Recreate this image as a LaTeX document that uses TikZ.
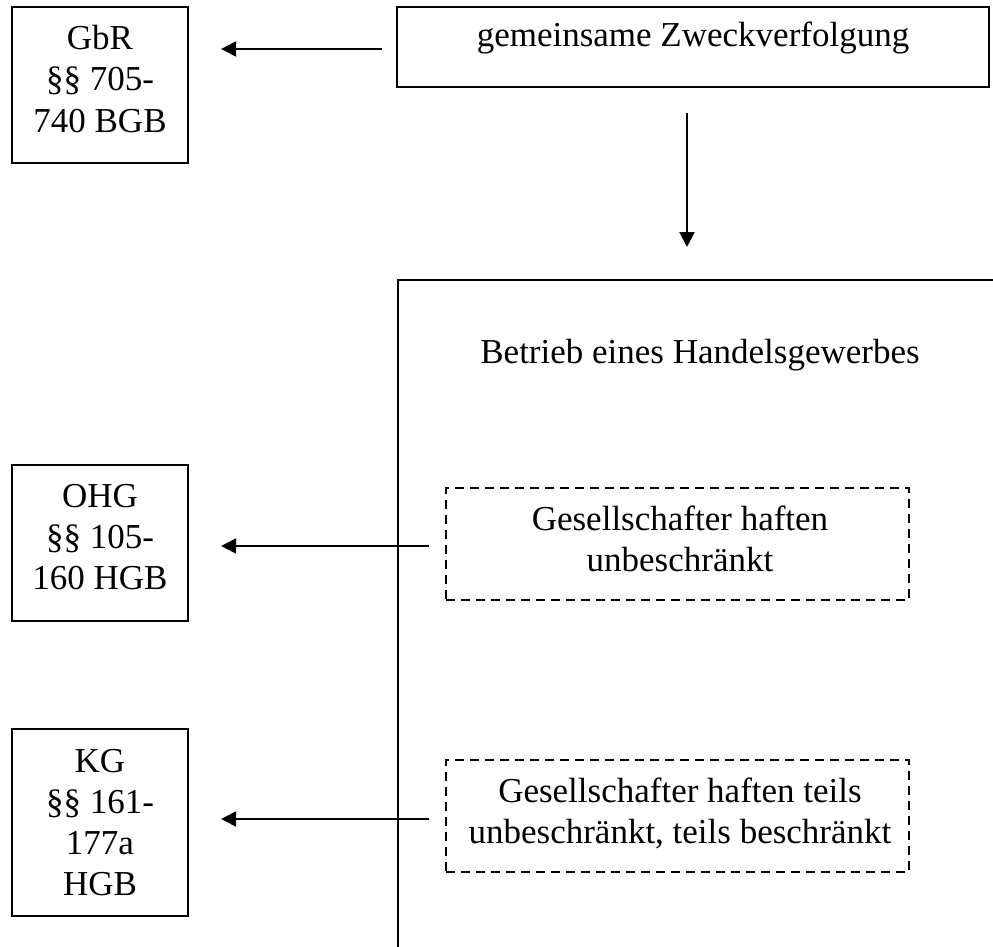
\documentclass[tikz,border=0pt]{standalone}
\usepackage{fontspec}
\setmainfont{Liberation Serif}
\usetikzlibrary{arrows.meta}
\begin{document}
\begin{tikzpicture}[x=1pt,y=-1pt,
  box/.style={draw=black, line width=2.2pt, inner sep=0pt, fill=none},
  dbox/.style={draw=black, line width=2.2pt, inner sep=0pt, dash pattern=on 9pt off 6pt},
  txt/.style={inner sep=0pt, align=center, font=\fontsize{35}{41}\selectfont},
  arr/.style={line width=2.2pt, -{Triangle[length=15pt,width=15pt]}}]
\useasboundingbox (0,0) rectangle (993,947);
\clip (0,0) rectangle (993,947);
\fill[white] (0,0) rectangle (993,947);
% boxes
\node[box, minimum width=592pt, minimum height=80pt] (top) at (693,47) {};
\node[box, minimum width=176pt, minimum height=156pt] (gbr) at (100,85) {};
\node[box, minimum width=176pt, minimum height=156pt] (ohg) at (100,543) {};
\node[box, minimum width=176pt, minimum height=187pt] (kg) at (100,822.5) {};
\node[box, anchor=north west, minimum width=700pt, minimum height=720pt] (big) at (397,279) {};
\node[dbox, minimum width=463pt, minimum height=112pt] (d1) at (677.5,544) {};
\node[dbox, minimum width=463pt, minimum height=112pt] (d2) at (677.5,816) {};
% texts (base anchor = baseline of the last line)
\node[txt, anchor=base] (toptxt) at (693,47) {gemeinsame Zweckverfolgung};
\node[txt, anchor=base] (gbrtxt) at (100,132) {GbR\\§§ 705-\\740 BGB};
\node[txt, anchor=base] (ohgtxt) at (100,589) {OHG\\§§ 105-\\160 HGB};
\node[txt, anchor=base] (kgtxt) at (100,895) {KG\\§§ 161-\\177a\\HGB};
\node[txt, anchor=base] (bigtxt) at (700,363) {Betrieb eines Handelsgewerbes};
\node[txt, anchor=base] (d1txt) at (680,571) {Gesellschafter haften\\unbeschränkt};
\node[txt, anchor=base] (d2txt) at (680,843) {Gesellschafter haften teils\\unbeschränkt, teils beschränkt};
% arrow end points
\coordinate (a1s) at ([shift={(-14,2)}]top.west);
\coordinate (a1e) at (gbr.east |- a1s);
\coordinate (a2s) at (687,113);
\coordinate (a2e) at (687,247);
\coordinate (a3s) at (429,546);
\coordinate (a3e) at (ohg.east |- a3s);
\coordinate (a4s) at (429,819);
\coordinate (a4e) at (kg.east |- a4s);
\draw[arr] (a1s) -- ([xshift=32]a1e);
\draw[arr] (a2s) -- (a2e);
\draw[arr] (a3s) -- ([xshift=32]a3e);
\draw[arr] (a4s) -- ([xshift=32]a4e);
\end{tikzpicture}
\end{document}
